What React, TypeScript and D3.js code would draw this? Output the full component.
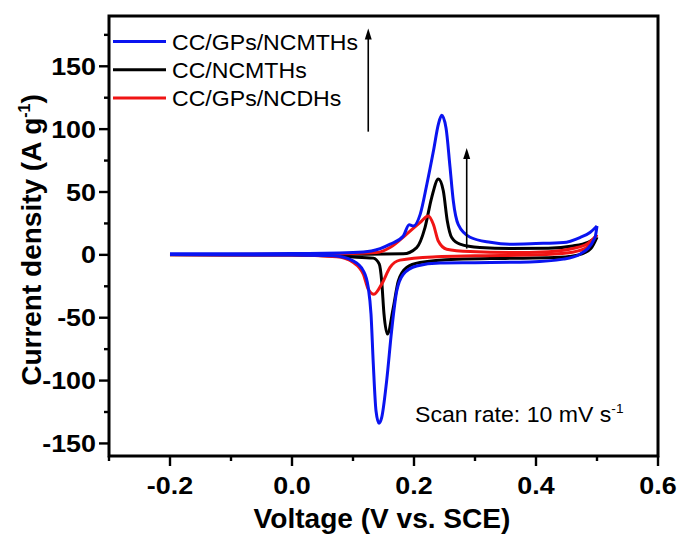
import React from 'react';
import * as d3 from 'd3';

// CV loops: [voltage (V), current density (A/g)]
// anodic (forward) branch and cathodic (reverse) branch for each electrode
const blueUp = [[-0.2, 0.8], [0, 1], [0.1, 1.8], [0.13, 3], [0.161, 8.5], [0.1825, 15], [0.192, 24], [0.199, 23], [0.21, 32], [0.221, 56], [0.232, 83], [0.24, 104], [0.2454, 111], [0.2525, 101], [0.259, 70], [0.2644, 43], [0.2726, 24], [0.292, 14], [0.325, 10], [0.357, 8.5], [0.4, 9], [0.445, 9.8], [0.472, 13.8], [0.4885, 17.8], [0.5, 23]];
const blueDown = [[-0.2, 0.2], [0, -0.2], [0.068, -0.8], [0.1, -4.8], [0.117, -12.7], [0.125, -26], [0.1295, -47], [0.1333, -87], [0.1377, -124], [0.1426, -134], [0.147, -129.5], [0.1552, -100], [0.1634, -60], [0.1716, -29], [0.1825, -15.4], [0.2044, -8.8], [0.2426, -6.5], [0.3, -6.2], [0.39, -5.6], [0.445, -3.4], [0.472, 0.5], [0.4967, 13.8], [0.5, 23]];
const blackUp = [[-0.2, 0.3], [0, 0.3], [0.1, 0.5], [0.1825, 0.8], [0.2044, 5.8], [0.218, 21.7], [0.229, 45.6], [0.24, 60.3], [0.248, 51], [0.2546, 27], [0.2618, 13.8], [0.2754, 8.5], [0.308, 5.8], [0.357, 5], [0.42, 5.2], [0.46, 7], [0.485, 10], [0.5, 14]];
const blackDown = [[-0.2, 0], [0, -0.2], [0.095, -1.6], [0.1333, -2.6], [0.1431, -7.4], [0.147, -20.7], [0.1508, -47], [0.1563, -63], [0.1661, -42], [0.1743, -20.7], [0.188, -10], [0.2098, -6.1], [0.27, -3.5], [0.35, -2.8], [0.43, -2.2], [0.47, 0], [0.49, 5], [0.5, 14]];
const redUp = [[-0.2, 0.3], [0, 0.5], [0.1, 1], [0.139, 1.8], [0.1607, 5.8], [0.188, 16.5], [0.2098, 25.7], [0.2234, 31], [0.2317, 24.4], [0.2398, 11], [0.2536, 4.5], [0.292, 2.6], [0.357, 1.8], [0.42, 2.5], [0.46, 5], [0.485, 9], [0.5, 16]];
const redDown = [[-0.2, 0], [0, -0.2], [0.0733, -1.6], [0.1005, -6.1], [0.1169, -15.4], [0.125, -27.3], [0.1344, -31.3], [0.147, -23.3], [0.1607, -10], [0.177, -4.2], [0.237, -1.6], [0.3, -0.8], [0.4, 0], [0.45, 1.5], [0.48, 5], [0.5, 16]];

const seriesNames = ['CC/GPs/NCMTHs', 'CC/NCMTHs', 'CC/GPs/NCDHs'];
const seriesColors = ['#0a14f0', '#000000', '#f01414'];

const xTicks = [-0.2, 0.0, 0.2, 0.4, 0.6];
const xMinor = [-0.3, -0.1, 0.1, 0.3, 0.5];
const yTicks = [-150, -100, -50, 0, 50, 100, 150];
const yMinor = [-125, -75, -25, 25, 75, 125, 175];

// arrows: [voltage, from, to]
const arrows = [[0.125, 98, 180], [0.2864, 5, 85]];

const W = 680;
const H = 534;
const m = { left: 109, right: 658, top: 16, bottom: 456 };

export default function App() {
  const x = d3.scaleLinear().domain([-0.3, 0.6]).range([m.left, m.right]);
  const y = d3.scaleLinear().domain([-160, 190]).range([m.bottom, m.top]);

  const line = d3.line<number[]>()
    .x(d => x(d[0]))
    .y(d => y(d[1]))
    .curve(d3.curveMonotoneX);

  const loops = [
    { up: blackUp, down: blackDown, color: seriesColors[1] },
    { up: redUp, down: redDown, color: seriesColors[2] },
    { up: blueUp, down: blueDown, color: seriesColors[0] },
  ];

  const font = 'Arial, "Liberation Sans", sans-serif';
  const fmt = (t: number) => t.toFixed(1); // hyphen minus like the original

  return (
    <svg width={W} height={H} style={{ position: 'absolute', left: 0, top: 0, background: '#fff' }} fontFamily={font}>
      {loops.map((s, i) => (
        <g key={i} fill="none" stroke={s.color} strokeWidth={3} strokeLinejoin="round">
          <path d={line(s.up) || ''} />
          <path d={line(s.down) || ''} />
        </g>
      ))}

      {/* arrows */}
      {arrows.map((a, i) => {
        const ax = x(a[0]);
        const y0 = y(a[1]);
        const y1 = y(a[2]);
        return (
          <g key={i}>
            <line x1={ax} x2={ax} y1={y0} y2={y1 + 8} stroke="#000" strokeWidth={1.6} />
            <path d={`M${ax},${y1} L${ax - 3.5},${y1 + 11} L${ax + 3.5},${y1 + 11} Z`} fill="#000" />
          </g>
        );
      })}

      {/* frame */}
      <rect x={m.left} y={m.top} width={m.right - m.left} height={m.bottom - m.top} fill="none" stroke="#000" strokeWidth={3} />

      {/* y axis ticks */}
      {yTicks.map(t => (
        <g key={'y' + t}>
          <line x1={m.left - 10} x2={m.left} y1={y(t)} y2={y(t)} stroke="#000" strokeWidth={2.4} />
          <text transform={`translate(${m.left - 13},${y(t) + 8.5}) scale(1.12,1)`} textAnchor="end" fontSize={24} fontWeight="bold">{t}</text>
        </g>
      ))}
      {yMinor.map(t => (
        <line key={'ym' + t} x1={m.left - 5} x2={m.left} y1={y(t)} y2={y(t)} stroke="#000" strokeWidth={2.4} />
      ))}

      {/* x axis ticks */}
      {xTicks.map(t => (
        <g key={'x' + t}>
          <line x1={x(t)} x2={x(t)} y1={m.bottom} y2={m.bottom + 10} stroke="#000" strokeWidth={2.4} />
          <text transform={`translate(${x(t)},${m.bottom + 38}) scale(1.12,1)`} textAnchor="middle" fontSize={24} fontWeight="bold">{fmt(t)}</text>
        </g>
      ))}
      {xMinor.map(t => (
        <line key={'xm' + t} x1={x(t)} x2={x(t)} y1={m.bottom} y2={m.bottom + 5} stroke="#000" strokeWidth={2.4} />
      ))}

      {/* axis titles */}
      <text transform="translate(382,528) scale(1.04,1)" textAnchor="middle" fontSize={27} fontWeight="bold">Voltage (V vs. SCE)</text>
      <text transform="translate(41,240) rotate(-90)" textAnchor="middle" fontSize={28} fontWeight="bold">
        Current density (A g<tspan dy={-11} fontSize={16}>-1</tspan><tspan dy={11}>)</tspan>
      </text>

      {/* legend */}
      {seriesNames.map((n, i) => (
        <g key={n}>
          <line x1={113} x2={166} y1={41.5 + i * 28.3} y2={41.5 + i * 28.3} stroke={seriesColors[i]} strokeWidth={3} />
          <text transform={`translate(172,${41.5 + i * 28.3 + 8}) scale(1.05,1)`} fontSize={22}>{n}</text>
        </g>
      ))}

      {/* annotation */}
      <text transform="translate(415,422) scale(1.05,1)" fontSize={22}>
        Scan rate: 10 mV s<tspan dy={-9} fontSize={13}>-1</tspan>
      </text>
    </svg>
  );
}
